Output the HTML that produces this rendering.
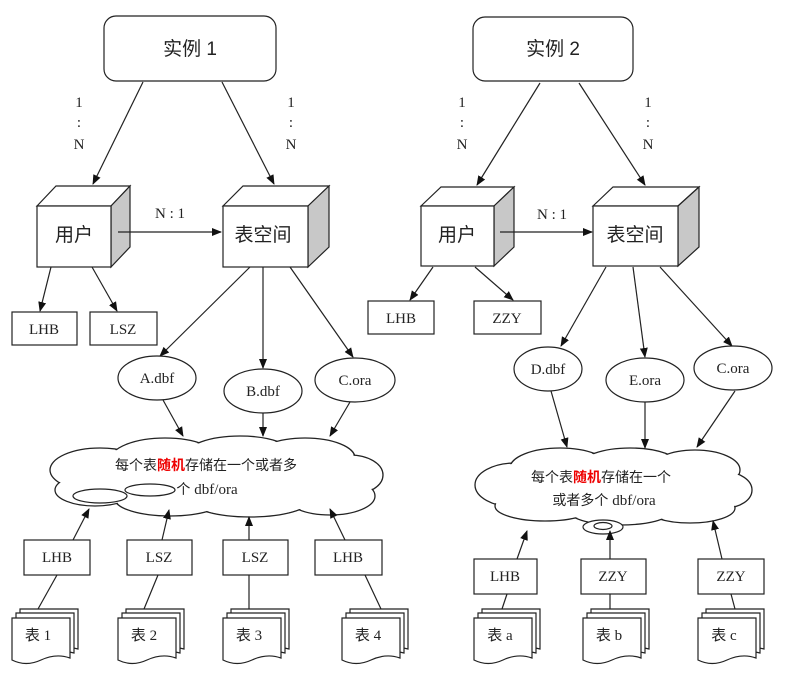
<!DOCTYPE html>
<html><head><meta charset="utf-8"><style>
body{margin:0;background:#fff}
svg{display:block}
text{font-family:"Liberation Serif","Noto Serif CJK SC",serif;font-size:15px;fill:#222}
.cj{font-family:"Liberation Sans","Noto Sans CJK SC",sans-serif}
</style></head><body>
<svg width="791" height="690" viewBox="0 0 791 690" xmlns="http://www.w3.org/2000/svg">
<defs>
<marker id="a" markerWidth="10" markerHeight="10" refX="9" refY="5" orient="auto" markerUnits="userSpaceOnUse"><path d="M0,1 L10,5 L0,9 z" fill="#111"/></marker>
<g id="doc">
<path d="M8,0 h58 v40 q-14,-4 -29,2 t-29,0 z" fill="#fff" stroke="#222" stroke-width="1.2"/>
<path d="M4,4 h58 v40 q-14,-4 -29,2 t-29,0 z" fill="#fff" stroke="#222" stroke-width="1.2"/>
<path d="M0,9 h58 v40 q-14,-5 -29,2 t-29,0 z" fill="#fff" stroke="#222" stroke-width="1.2"/>
</g>
</defs>
<g fill="none" stroke="#222" stroke-width="1.2">
<rect x="104" y="16" width="172" height="65" rx="12" fill="#fff"/>
<line x1="143" y1="82" x2="93" y2="184" marker-end="url(#a)"/>
<line x1="222" y1="82" x2="274" y2="184" marker-end="url(#a)"/>
<path d="M37,206 L56,186 H130 L111,206 Z" fill="#fff"/>
<path d="M111,206 L130,186 V247 L111,267 Z" fill="#c8c8c8"/>
<rect x="37" y="206" width="74" height="61" fill="#fff"/>
<path d="M223,206 L243,186 H329 L308,206 Z" fill="#fff"/>
<path d="M308,206 L329,186 V247 L308,267 Z" fill="#c8c8c8"/>
<rect x="223" y="206" width="85" height="61" fill="#fff"/>
<line x1="118" y1="232" x2="221" y2="232" marker-end="url(#a)"/>
<line x1="51" y1="267" x2="40" y2="311" marker-end="url(#a)"/>
<line x1="92" y1="267" x2="117" y2="311" marker-end="url(#a)"/>
<rect x="12" y="312" width="65" height="33" fill="#fff"/>
<rect x="90" y="312" width="67" height="33" fill="#fff"/>
<line x1="250" y1="267" x2="160" y2="356" marker-end="url(#a)"/>
<line x1="263" y1="267" x2="263" y2="368" marker-end="url(#a)"/>
<line x1="290" y1="267" x2="353" y2="357" marker-end="url(#a)"/>
<ellipse cx="157" cy="378" rx="39" ry="22" fill="#fff"/>
<ellipse cx="263" cy="391" rx="39" ry="22" fill="#fff"/>
<ellipse cx="355" cy="380" rx="40" ry="22" fill="#fff"/>
<line x1="163" y1="400" x2="183" y2="436" marker-end="url(#a)"/>
<line x1="263" y1="413" x2="263" y2="436" marker-end="url(#a)"/>
<line x1="350" y1="402" x2="330" y2="436" marker-end="url(#a)"/>
</g>
<g stroke="#222" stroke-width="1.3" fill="#fff">
<ellipse cx="100" cy="470" rx="50" ry="22"/>
<ellipse cx="165" cy="460" rx="55" ry="22"/>
<ellipse cx="240" cy="456" rx="55" ry="20"/>
<ellipse cx="305" cy="458" rx="50" ry="20"/>
<ellipse cx="350" cy="475" rx="33" ry="20"/>
<ellipse cx="330" cy="496" rx="45" ry="19"/>
<ellipse cx="250" cy="500" rx="60" ry="17"/>
<ellipse cx="170" cy="499" rx="55" ry="17"/>
<ellipse cx="95" cy="490" rx="40" ry="16"/>
</g>
<g fill="#fff" stroke="none">
<ellipse cx="100" cy="470" rx="49" ry="21"/>
<ellipse cx="165" cy="460" rx="54" ry="21"/>
<ellipse cx="240" cy="456" rx="54" ry="19"/>
<ellipse cx="305" cy="458" rx="49" ry="19"/>
<ellipse cx="350" cy="475" rx="32" ry="19"/>
<ellipse cx="330" cy="496" rx="44" ry="18"/>
<ellipse cx="250" cy="500" rx="59" ry="16"/>
<ellipse cx="170" cy="499" rx="54" ry="16"/>
<ellipse cx="95" cy="490" rx="39" ry="15"/>
<ellipse cx="215" cy="478" rx="150" ry="26"/>
</g>
<g fill="#fff" stroke="#222" stroke-width="1.2">
<ellipse cx="100" cy="496" rx="27" ry="7"/>
<ellipse cx="150" cy="490" rx="25" ry="6"/>
</g>
<g fill="none" stroke="#222" stroke-width="1.2">
<rect x="473" y="17" width="160" height="64" rx="12" fill="#fff"/>
<line x1="540" y1="83" x2="477" y2="185" marker-end="url(#a)"/>
<line x1="579" y1="83" x2="645" y2="185" marker-end="url(#a)"/>
<path d="M421,206 L441,187 H514 L494,206 Z" fill="#fff"/>
<path d="M494,206 L514,187 V247 L494,266 Z" fill="#c8c8c8"/>
<rect x="421" y="206" width="73" height="60" fill="#fff"/>
<path d="M593,206 L613,187 H699 L678,206 Z" fill="#fff"/>
<path d="M678,206 L699,187 V247 L678,266 Z" fill="#c8c8c8"/>
<rect x="593" y="206" width="85" height="60" fill="#fff"/>
<line x1="500" y1="232" x2="592" y2="232" marker-end="url(#a)"/>
<line x1="433" y1="267" x2="410" y2="300" marker-end="url(#a)"/>
<line x1="475" y1="267" x2="513" y2="300" marker-end="url(#a)"/>
<rect x="368" y="301" width="66" height="33" fill="#fff"/>
<rect x="474" y="301" width="67" height="33" fill="#fff"/>
<line x1="606" y1="267" x2="561" y2="346" marker-end="url(#a)"/>
<line x1="633" y1="267" x2="645" y2="357" marker-end="url(#a)"/>
<line x1="660" y1="267" x2="732" y2="346" marker-end="url(#a)"/>
<ellipse cx="548" cy="369" rx="34" ry="22" fill="#fff"/>
<ellipse cx="645" cy="380" rx="39" ry="22" fill="#fff"/>
<ellipse cx="733" cy="368" rx="39" ry="22" fill="#fff"/>
<line x1="551" y1="391" x2="567" y2="447" marker-end="url(#a)"/>
<line x1="645" y1="402" x2="645" y2="448" marker-end="url(#a)"/>
<line x1="735" y1="391" x2="697" y2="447" marker-end="url(#a)"/>
</g>
<g stroke="#222" stroke-width="1.3" fill="#fff">
<ellipse cx="515" cy="485" rx="40" ry="22"/>
<ellipse cx="560" cy="468" rx="50" ry="20"/>
<ellipse cx="630" cy="466" rx="50" ry="18"/>
<ellipse cx="695" cy="470" rx="45" ry="20"/>
<ellipse cx="725" cy="490" rx="27" ry="18"/>
<ellipse cx="690" cy="508" rx="45" ry="15"/>
<ellipse cx="620" cy="512" rx="50" ry="13"/>
<ellipse cx="545" cy="506" rx="50" ry="15"/>
</g>
<g fill="#fff" stroke="none">
<ellipse cx="515" cy="485" rx="39" ry="21"/>
<ellipse cx="560" cy="468" rx="49" ry="19"/>
<ellipse cx="630" cy="466" rx="49" ry="17"/>
<ellipse cx="695" cy="470" rx="44" ry="19"/>
<ellipse cx="725" cy="490" rx="26" ry="17"/>
<ellipse cx="690" cy="508" rx="44" ry="14"/>
<ellipse cx="620" cy="512" rx="49" ry="12"/>
<ellipse cx="545" cy="506" rx="49" ry="14"/>
<ellipse cx="612" cy="488" rx="120" ry="24"/>
</g>
<g fill="#fff" stroke="#222" stroke-width="1.2">
<ellipse cx="603" cy="527" rx="20" ry="7"/>
<ellipse cx="603" cy="526" rx="9" ry="3.5"/>
</g>
<g fill="none" stroke="#222" stroke-width="1.2">
<line x1="73" y1="540" x2="89" y2="509" marker-end="url(#a)"/>
<line x1="162" y1="540" x2="169" y2="510" marker-end="url(#a)"/>
<line x1="249" y1="540" x2="249" y2="517" marker-end="url(#a)"/>
<line x1="345" y1="540" x2="330" y2="509" marker-end="url(#a)"/>
<rect x="24" y="540" width="66" height="35" fill="#fff"/>
<rect x="127" y="540" width="65" height="35" fill="#fff"/>
<rect x="223" y="540" width="65" height="35" fill="#fff"/>
<rect x="315" y="540" width="67" height="35" fill="#fff"/>
<line x1="38" y1="609" x2="57" y2="575"/>
<line x1="144" y1="609" x2="158" y2="575"/>
<line x1="249" y1="609" x2="249" y2="575"/>
<line x1="381" y1="609" x2="365" y2="575"/>
<line x1="517" y1="559" x2="527" y2="531" marker-end="url(#a)"/>
<line x1="610" y1="559" x2="610" y2="531" marker-end="url(#a)"/>
<line x1="722" y1="559" x2="713" y2="521" marker-end="url(#a)"/>
<rect x="474" y="559" width="63" height="35" fill="#fff"/>
<rect x="581" y="559" width="65" height="35" fill="#fff"/>
<rect x="698" y="559" width="66" height="35" fill="#fff"/>
<line x1="502" y1="609" x2="507" y2="594"/>
<line x1="610" y1="609" x2="610" y2="594"/>
<line x1="735" y1="609" x2="731" y2="594"/>
</g>
<use href="#doc" x="12" y="609"/>
<use href="#doc" x="118" y="609"/>
<use href="#doc" x="223" y="609"/>
<use href="#doc" x="342" y="609"/>
<use href="#doc" x="474" y="609"/>
<use href="#doc" x="583" y="609"/>
<use href="#doc" x="698" y="609"/>
<g text-anchor="middle">
<text x="190" y="55" class="cj" style="font-size:19px">实例 1</text>
<text x="553" y="55" class="cj" style="font-size:19px">实例 2</text>
<text x="79" y="107">1</text><text x="79" y="127">:</text><text x="79" y="149">N</text>
<text x="291" y="107">1</text><text x="291" y="127">:</text><text x="291" y="149">N</text>
<text x="462" y="107">1</text><text x="462" y="127">:</text><text x="462" y="149">N</text>
<text x="648" y="107">1</text><text x="648" y="127">:</text><text x="648" y="149">N</text>
<text x="170" y="218">N : 1</text>
<text x="552" y="219">N : 1</text>
<text x="74" y="241" class="cj" style="font-size:19px">用户</text>
<text x="263" y="241" class="cj" style="font-size:19px">表空间</text>
<text x="457" y="241" class="cj" style="font-size:19px">用户</text>
<text x="635" y="241" class="cj" style="font-size:19px">表空间</text>
<text x="44" y="334">LHB</text><text x="123" y="334">LSZ</text>
<text x="401" y="323">LHB</text><text x="507" y="323">ZZY</text>
<text x="157" y="383">A.dbf</text><text x="263" y="396">B.dbf</text><text x="355" y="385">C.ora</text>
<text x="548" y="374">D.dbf</text><text x="645" y="385">E.ora</text><text x="733" y="373">C.ora</text>
<text x="206" y="470" style="font-size:14px"><tspan class="cj">每个表</tspan><tspan class="cj" style="fill:#e00;font-weight:bold">随机</tspan><tspan class="cj">存储在一个或者多</tspan></text>
<text x="207" y="494"><tspan class="cj" style="font-size:14px">个 </tspan>dbf/ora</text>
<text x="601" y="482" style="font-size:14px"><tspan class="cj">每个表</tspan><tspan class="cj" style="fill:#e00;font-weight:bold">随机</tspan><tspan class="cj">存储在一个</tspan></text>
<text x="604" y="505"><tspan class="cj" style="font-size:14px">或者多个 </tspan>dbf/ora</text>
<text x="57" y="562">LHB</text><text x="159" y="562">LSZ</text><text x="255" y="562">LSZ</text><text x="348" y="562">LHB</text>
<text x="505" y="581">LHB</text><text x="613" y="581">ZZY</text><text x="731" y="581">ZZY</text>
<text x="38" y="640"><tspan class="cj">表</tspan> 1</text>
<text x="144" y="640"><tspan class="cj">表</tspan> 2</text>
<text x="249" y="640"><tspan class="cj">表</tspan> 3</text>
<text x="368" y="640"><tspan class="cj">表</tspan> 4</text>
<text x="500" y="640"><tspan class="cj">表</tspan> a</text>
<text x="609" y="640"><tspan class="cj">表</tspan> b</text>
<text x="724" y="640"><tspan class="cj">表</tspan> c</text>
</g>
</svg>
</body></html>
